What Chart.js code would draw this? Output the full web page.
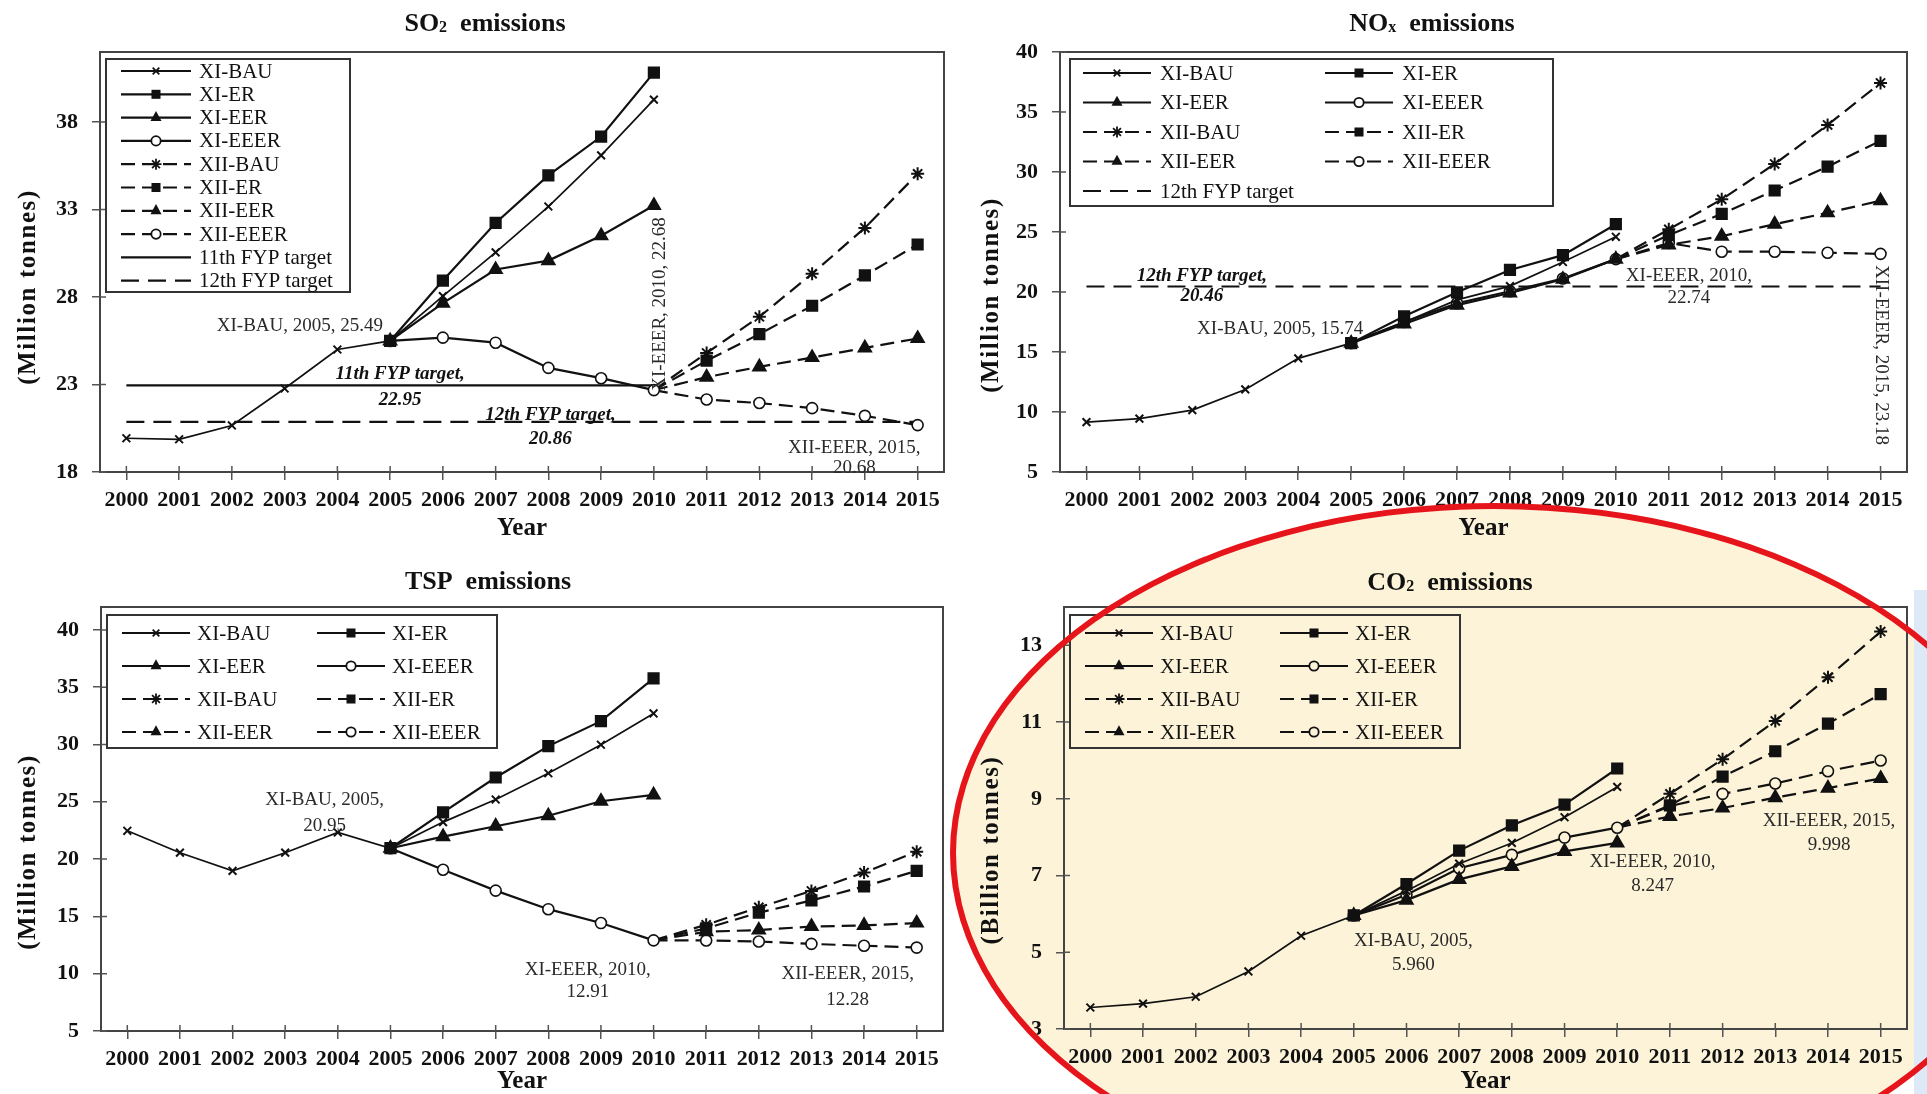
<!DOCTYPE html>
<html>
<head>
<meta charset="utf-8">
<script src="https://cdn.jsdelivr.net/npm/chart.js@4.4.1/dist/chart.umd.min.js"></script>
<style>
  html, body { margin: 0; padding: 0; background: #fff; }
  body { width: 1927px; height: 1094px; position: relative; overflow: hidden; }
  canvas { position: absolute; z-index: 1; }
  #ellFill { position: absolute; left: 950px; top: 503px; width: 1088px; height: 700px; border-radius: 50%; background: rgb(252,243,216); z-index: 0; }
  #ellLine { position: absolute; left: 950px; top: 503px; width: 1088px; height: 700px; border-radius: 50%; border: 6px solid #e6141b; box-sizing: border-box; z-index: 3; pointer-events: none; }
  #strip { position: absolute; left: 1914px; top: 590px; width: 13px; height: 504px; background: #dde9f6; z-index: 2; }
</style>
</head>
<body>
<div id="ellFill"></div>
<canvas id="so2" width="963" height="547" style="left:0;top:0"></canvas>
<canvas id="nox" width="964" height="547" style="left:963px;top:0"></canvas>
<canvas id="tsp" width="963" height="547" style="left:0;top:547px"></canvas>
<canvas id="co2" width="964" height="547" style="left:963px;top:547px"></canvas>
<div id="strip"></div>
<div id="ellLine"></div>
<script>
const _ = null;
const years = ['2000','2001','2002','2003','2004','2005','2006','2007','2008','2009','2010','2011','2012','2013','2014','2015'];

// ---------- SO2 (million tonnes) ----------
const so2XiBau   = [19.93, 19.87, 20.66, 22.77, 25.00, 25.49, 28.05, 30.55, 33.17, 36.09, 39.28, _, _, _, _, _];
const so2XiEr    = [_, _, _, _, _, 25.49, 28.94, 32.23, 34.95, 37.17, 40.82, _, _, _, _, _];
const so2XiEer   = [_, _, _, _, _, 25.49, 27.65, 29.57, 30.08, 31.50, 33.23, _, _, _, _, _];
const so2XiEeer  = [_, _, _, _, _, 25.49, 25.68, 25.39, 23.95, 23.36, 22.68, _, _, _, _, _];
const so2XiiBau  = [_, _, _, _, _, _, _, _, _, _, 22.68, 24.80, 26.87, 29.33, 31.95, 35.04];
const so2XiiEr   = [_, _, _, _, _, _, _, _, _, _, 22.68, 24.36, 25.88, 27.50, 29.23, 31.00];
const so2XiiEer  = [_, _, _, _, _, _, _, _, _, _, 22.68, 23.42, 24.01, 24.54, 25.09, 25.63];
const so2XiiEeer = [_, _, _, _, _, _, _, _, _, _, 22.68, 22.14, 21.94, 21.65, 21.21, 20.68];
const so2Target11 = [22.95, 22.95, 22.95, 22.95, 22.95, 22.95, 22.95, 22.95, 22.95, 22.95, 22.95, _, _, _, _, _];
const so2Target12 = [20.86, 20.86, 20.86, 20.86, 20.86, 20.86, 20.86, 20.86, 20.86, 20.86, 20.86, 20.86, 20.86, 20.86, 20.86, 20.86];
const so2Ticks = [18, 23, 28, 33, 38];

// ---------- NOx (million tonnes) ----------
const noxXiBau   = [9.16, 9.45, 10.16, 11.88, 14.47, 15.74, 17.48, 19.34, 20.49, 22.50, 24.60, _, _, _, _, _];
const noxXiEr    = [_, _, _, _, _, 15.74, 17.97, 19.97, 21.84, 23.07, 25.65, _, _, _, _, _];
const noxXiEer   = [_, _, _, _, _, 15.74, 17.34, 18.91, 19.92, 21.06, 22.74, _, _, _, _, _];
const noxXiEeer  = [_, _, _, _, _, 15.74, 17.50, 19.06, 20.06, 21.12, 22.74, _, _, _, _, _];
const noxXiiBau  = [_, _, _, _, _, _, _, _, _, _, 22.74, 25.22, 27.72, 30.67, 33.92, 37.42];
const noxXiiEr   = [_, _, _, _, _, _, _, _, _, _, 22.74, 24.74, 26.51, 28.46, 30.44, 32.60];
const noxXiiEer  = [_, _, _, _, _, _, _, _, _, _, 22.74, 23.93, 24.65, 25.65, 26.60, 27.60];
const noxXiiEeer = [_, _, _, _, _, _, _, _, _, _, 22.74, 24.08, 23.36, 23.36, 23.27, 23.18];
const noxTarget12 = [20.46, 20.46, 20.46, 20.46, 20.46, 20.46, 20.46, 20.46, 20.46, 20.46, 20.46, 20.46, 20.46, 20.46, 20.46, 20.46];
const noxTicks = [5, 10, 15, 20, 25, 30, 35, 40];

// ---------- TSP (million tonnes) ----------
const tspXiBau   = [22.47, 20.56, 18.98, 20.56, 22.32, 20.95, 23.23, 25.20, 27.49, 29.98, 32.71, _, _, _, _, _];
const tspXiEr    = [_, _, _, _, _, 20.95, 24.08, 27.12, 29.86, 32.04, 35.78, _, _, _, _, _];
const tspXiEer   = [_, _, _, _, _, 20.95, 21.96, 22.87, 23.78, 25.05, 25.60, _, _, _, _, _];
const tspXiEeer  = [_, _, _, _, _, 20.95, 19.07, 17.25, 15.63, 14.42, 12.91, _, _, _, _, _];
const tspXiiBau  = [_, _, _, _, _, _, _, _, _, _, 12.91, 14.27, 15.79, 17.22, 18.83, 20.65];
const tspXiiEr   = [_, _, _, _, _, _, _, _, _, _, 12.91, 13.96, 15.33, 16.39, 17.61, 18.98];
const tspXiiEer  = [_, _, _, _, _, _, _, _, _, _, 12.91, 13.66, 13.81, 14.12, 14.21, 14.42];
const tspXiiEeer = [_, _, _, _, _, _, _, _, _, _, 12.91, 12.90, 12.81, 12.60, 12.44, 12.28];
const tspTicks = [5, 10, 15, 20, 25, 30, 35, 40];

// ---------- CO2 (billion tonnes) ----------
const co2XiBau   = [3.56, 3.66, 3.84, 4.50, 5.43, 5.96, 6.60, 7.31, 7.85, 8.52, 9.31, _, _, _, _, _];
const co2XiEr    = [_, _, _, _, _, 5.96, 6.78, 7.65, 8.31, 8.85, 9.79, _, _, _, _, _];
const co2XiEer   = [_, _, _, _, _, 5.96, 6.36, 6.90, 7.24, 7.63, 7.85, _, _, _, _, _];
const co2XiEeer  = [_, _, _, _, _, 5.96, 6.50, 7.19, 7.54, 7.99, 8.247, _, _, _, _, _];
const co2XiiBau  = [_, _, _, _, _, _, _, _, _, _, 8.247, 9.13, 10.03, 11.03, 12.17, 13.36];
const co2XiiEr   = [_, _, _, _, _, _, _, _, _, _, 8.247, 8.83, 9.58, 10.24, 10.96, 11.73];
const co2XiiEer  = [_, _, _, _, _, _, _, _, _, _, 8.247, 8.54, 8.76, 9.03, 9.28, 9.53];
const co2XiiEeer = [_, _, _, _, _, _, _, _, _, _, 8.247, 8.81, 9.13, 9.40, 9.72, 9.998];
const co2Ticks = [3, 5, 7, 9, 11, 13];

// ---------- annotation texts (anchored in data space) ----------
const so2Notes = [
  { x: 3.29, y: 26.34, t: 'XI-BAU, 2005, 25.49' },
  { x: 5.19, y: 23.60, t: '11th FYP target,', bi: true },
  { x: 5.19, y: 22.11, t: '22.95', bi: true },
  { x: 8.04, y: 21.26, t: '12th FYP target,', bi: true },
  { x: 8.04, y: 19.89, t: '20.86', bi: true },
  { x: 10.12, y: 27.60, t: 'XI-EEER, 2010, 22.68', rot: -90 },
  { x: 13.8, y: 19.37, t: 'XII-EEER, 2015,' },
  { x: 13.8, y: 18.20, t: '20.68' }
];
const noxNotes = [
  { x: 2.18, y: 21.33, t: '12th FYP target,', bi: true },
  { x: 2.18, y: 19.67, t: '20.46', bi: true },
  { x: 3.66, y: 16.90, t: 'XI-BAU, 2005, 15.74' },
  { x: 11.38, y: 21.33, t: 'XI-EEER, 2010,' },
  { x: 11.38, y: 19.50, t: '22.74' },
  { x: 15.0, y: 14.75, t: 'XII-EEER, 2015, 23.18', rot: 90 }
];
const tspNotes = [
  { x: 3.75, y: 25.16, t: 'XI-BAU, 2005,' },
  { x: 3.75, y: 22.89, t: '20.95' },
  { x: 8.75, y: 10.32, t: 'XI-EEER, 2010,' },
  { x: 8.75, y: 8.40, t: '12.91' },
  { x: 13.69, y: 9.97, t: 'XII-EEER, 2015,' },
  { x: 13.69, y: 7.70, t: '12.28' }
];
const co2Notes = [
  { x: 6.13, y: 5.29, t: 'XI-BAU, 2005,' },
  { x: 6.13, y: 4.67, t: '5.960' },
  { x: 10.67, y: 7.35, t: 'XI-EEER, 2010,' },
  { x: 10.67, y: 6.72, t: '8.247' },
  { x: 14.02, y: 8.42, t: 'XII-EEER, 2015,' },
  { x: 14.02, y: 7.79, t: '9.998' }
];

// ---------- styling ----------
const SERIF = "'Liberation Serif', 'DejaVu Serif', 'Times New Roman', serif";
const INK = '#111';
const BEIGE = 'rgb(252,243,216)';

const MARKS = {
  BAU:  { ps: 'crossRot', r: 5.5 },
  ER:   { ps: 'rect', r: 7.5 },
  EER:  { ps: 'triangle', r: 7.5 },
  EEER: { ps: 'circle', r: 5.5 }
};

function series(label, data, kind, dashed, bg) {
  const m = MARKS[kind];
  const ps = (dashed && kind === 'BAU') ? 'star' : m.ps;
  const r = ps === 'star' ? 6.5 : m.r;
  return {
    label, data,
    borderColor: INK,
    borderWidth: kind === 'BAU' && !dashed ? 1.7 : 2.2,
    borderDash: dashed ? [14, 7] : [],
    pointStyle: ps,
    pointRadius: (ctx) => (dashed && ctx.dataIndex === 10) ? 0 : r,
    pointHoverRadius: r,
    pointBackgroundColor: kind === 'EEER' ? bg : INK,
    pointBorderColor: INK,
    pointBorderWidth: (ps === 'crossRot' || ps === 'star') ? 2 : 1.6,
    fill: false, tension: 0, spanGaps: false,
    _mark: { ps, r, bg: kind === 'EEER' ? bg : INK }
  };
}
function target(label, data, dashed) {
  return {
    label, data, borderColor: INK, borderWidth: 2.2,
    borderDash: dashed ? [18, 9] : [], pointRadius: 0, fill: false, tension: 0,
    _mark: null
  };
}

function drawMark(ctx, m, x, y, scale) {
  if (!m) return;
  const r = m.r * scale;
  ctx.save();
  ctx.setLineDash([]);
  ctx.strokeStyle = INK; ctx.fillStyle = INK; ctx.lineWidth = 1.8;
  ctx.beginPath();
  if (m.ps === 'crossRot' || m.ps === 'star') {
    const d = r * 0.707;
    ctx.moveTo(x - d, y - d); ctx.lineTo(x + d, y + d);
    ctx.moveTo(x - d, y + d); ctx.lineTo(x + d, y - d);
    if (m.ps === 'star') { ctx.moveTo(x - r, y); ctx.lineTo(x + r, y); ctx.moveTo(x, y - r); ctx.lineTo(x, y + r); }
    ctx.stroke();
  } else if (m.ps === 'rect') {
    const s = r * 0.707;
    ctx.fillRect(x - s, y - s, 2 * s, 2 * s);
  } else if (m.ps === 'triangle') {
    for (let k = 0; k < 3; k++) {
      const a = -Math.PI / 2 + k * 2 * Math.PI / 3;
      const px = x + Math.cos(a) * r, py = y + Math.sin(a) * r * 1.05;
      if (k === 0) ctx.moveTo(px, py); else ctx.lineTo(px, py);
    }
    ctx.closePath(); ctx.fill();
  } else if (m.ps === 'circle') {
    ctx.arc(x, y, r, 0, Math.PI * 2);
    ctx.fillStyle = m.bg; ctx.fill(); ctx.stroke();
  }
  ctx.restore();
}

// frame around plot area + inner tick marks
const framePlugin = {
  id: 'frame',
  beforeDatasetsDraw(chart) {
    const { ctx, chartArea: a, scales } = chart;
    ctx.save();
    ctx.strokeStyle = '#444'; ctx.lineWidth = 2;
    ctx.strokeRect(a.left, a.top, a.right - a.left, a.bottom - a.top);
    ctx.lineWidth = 1.5; ctx.strokeStyle = '#555';
    ctx.beginPath();
    scales.x.ticks.forEach((t, i) => {
      const x = scales.x.getPixelForTick(i);
      ctx.moveTo(x, a.bottom); ctx.lineTo(x, a.bottom - 6);
    });
    scales.y.ticks.forEach((t) => {
      const y = scales.y.getPixelForValue(t.value);
      ctx.moveTo(a.left, y); ctx.lineTo(a.left + 6, y);
    });
    ctx.stroke();
    ctx.restore();
  }
};

// title with subscripts + y-axis title
const textPlugin = {
  id: 'texts',
  afterDraw(chart, args, o) {
    const { ctx, chartArea: a } = chart;
    ctx.save();
    ctx.fillStyle = INK;
    ctx.textBaseline = 'alphabetic';
    const main = `bold 26px ${SERIF}`, sub = `bold 16px ${SERIF}`;
    let total = 0;
    o.title.forEach(([s, isSub]) => { ctx.font = isSub ? sub : main; total += ctx.measureText(s).width; });
    let x = o.titleX - total / 2;
    o.title.forEach(([s, isSub]) => {
      ctx.font = isSub ? sub : main;
      ctx.textAlign = 'left';
      ctx.fillText(s, x, o.titleY + 9 + (isSub ? 1 : 0));
      x += ctx.measureText(s).width;
    });
    // y axis title
    ctx.translate(o.yTitleX, (a.top + a.bottom) / 2 + o.yTitleShift);
    ctx.rotate(-Math.PI / 2);
    ctx.font = `bold 25px ${SERIF}`;
    if ('letterSpacing' in ctx) ctx.letterSpacing = '1.6px';
    ctx.textAlign = 'center'; ctx.textBaseline = 'middle';
    ctx.fillText(o.yTitle, 0, 0);
    ctx.restore();
  }
};

// boxed legend drawn inside plot area
const legendPlugin = {
  id: 'boxLegend',
  afterDatasetsDraw(chart, args, o) {
    const { ctx, chartArea: a } = chart;
    const bx = a.left + o.x, by = a.top + o.y;
    ctx.save();
    ctx.strokeStyle = '#333'; ctx.lineWidth = 2;
    ctx.strokeRect(bx, by, o.w, o.h);
    ctx.font = `21px ${SERIF}`;
    ctx.fillStyle = INK; ctx.textAlign = 'left'; ctx.textBaseline = 'middle';
    chart.data.datasets.forEach((ds, i) => {
      const col = i % o.cols, row = Math.floor(i / o.cols);
      const ox = bx + col * o.colW, oy = by + o.first + row * o.rowH;
      ctx.save();
      ctx.strokeStyle = INK; ctx.lineWidth = 2.2;
      ctx.setLineDash(ds.borderDash && ds.borderDash.length ? ds.borderDash : []);
      ctx.beginPath(); ctx.moveTo(ox + o.s0, oy); ctx.lineTo(ox + o.s1, oy); ctx.stroke();
      ctx.restore();
      drawMark(ctx, ds._mark, ox + (o.s0 + o.s1) / 2, oy, 0.85);
      ctx.fillStyle = INK;
      ctx.fillText(ds.label, ox + o.tx, oy + 1);
    });
    ctx.restore();
  }
};

// value annotations placed through the scales
const notesPlugin = {
  id: 'notes',
  afterDatasetsDraw(chart, args, o) {
    const { ctx, scales } = chart;
    ctx.save();
    o.items.forEach(n => {
      const px = scales.x.getPixelForValue(n.x), py = scales.y.getPixelForValue(n.y);
      ctx.save();
      ctx.translate(px, py);
      if (n.rot) ctx.rotate(n.rot * Math.PI / 180);
      ctx.font = n.bi ? `italic bold 19px ${SERIF}` : `19px ${SERIF}`;
      ctx.fillStyle = n.bi ? INK : '#2a2a2a';
      ctx.textAlign = 'center'; ctx.textBaseline = 'middle';
      ctx.fillText(n.t, 0, 0);
      ctx.restore();
    });
    ctx.restore();
  }
};

function makeChart(id, cfg) {
  const canvas = document.getElementById(id);
  const W = canvas.width, H = canvas.height;
  const ar = cfg.area;
  const tickFont = { family: SERIF, size: 22, weight: 'bold' };
  new Chart(canvas, {
    type: 'line',
    data: { labels: years, datasets: cfg.datasets },
    options: {
      responsive: false, animation: false, events: [],
      layout: { padding: { top: ar.top, right: W - ar.right, left: 0, bottom: 0 } },
      plugins: {
        legend: { display: false }, title: { display: false }, tooltip: { enabled: false },
        texts: { title: cfg.title, titleX: cfg.titleX, titleY: cfg.titleY, yTitle: cfg.yTitle, yTitleX: 29, yTitleShift: cfg.yTitleShift },
        boxLegend: cfg.legend,
        notes: { items: cfg.notes }
      },
      scales: {
        x: {
          type: 'category', offset: true,
          grid: { display: true, drawOnChartArea: false, drawTicks: true, tickLength: 8, color: '#555', lineWidth: 1.5, offset: false },
          border: { display: true, color: '#555', width: 2 },
          ticks: { autoSkip: false, maxRotation: 0, minRotation: 0, padding: cfg.xPad, color: INK, font: tickFont },
          title: { display: true, text: 'Year', color: INK, font: { family: SERIF, size: 25, weight: 'bold', lineHeight: 1 }, padding: { top: 0, bottom: cfg.yearPad } },
          afterFit: (s) => { s.height = H - ar.bottom; }
        },
        y: {
          type: 'linear', min: cfg.min, max: cfg.max,
          afterBuildTicks: (s) => { s.ticks = cfg.ticks.map(v => ({ value: v })); },
          grid: { display: true, drawOnChartArea: false, drawTicks: true, tickLength: 8, color: '#555', lineWidth: 1.5 },
          border: { display: true, color: '#555', width: 2 },
          ticks: { padding: 14, color: INK, font: tickFont },
          afterFit: (s) => { s.width = ar.left; }
        }
      }
    },
    plugins: [framePlugin, legendPlugin, notesPlugin, textPlugin]
  });
}

// ---- SO2 ----
makeChart('so2', {
  area: { left: 100, right: 944, top: 52, bottom: 472 },
  min: 18, max: 42, ticks: so2Ticks,
  title: [['SO', 0], ['2', 1], ['  emissions', 0]], titleX: 485, titleY: 22,
  yTitle: '(Million tonnes)', yTitleShift: 25, xPad: 7, yearPad: 6,
  datasets: [
    series('XI-BAU', so2XiBau, 'BAU', false, '#fff'),
    series('XI-ER', so2XiEr, 'ER', false, '#fff'),
    series('XI-EER', so2XiEer, 'EER', false, '#fff'),
    series('XI-EEER', so2XiEeer, 'EEER', false, '#fff'),
    series('XII-BAU', so2XiiBau, 'BAU', true, '#fff'),
    series('XII-ER', so2XiiEr, 'ER', true, '#fff'),
    series('XII-EER', so2XiiEer, 'EER', true, '#fff'),
    series('XII-EEER', so2XiiEeer, 'EEER', true, '#fff'),
    target('11th FYP target', so2Target11, false),
    target('12th FYP target', so2Target12, true)
  ],
  legend: { x: 6, y: 7, w: 244, h: 233, cols: 1, colW: 0, rowH: 23.3, first: 12, s0: 15, s1: 85, tx: 93 },
  notes: so2Notes
});

// ---- NOx ----
makeChart('nox', {
  area: { left: 97, right: 944, top: 52, bottom: 472 },
  min: 5, max: 40, ticks: noxTicks,
  title: [['NO', 0], ['x', 1], ['  emissions', 0]], titleX: 469, titleY: 22,
  yTitle: '(Million tonnes)', yTitleShift: 33, xPad: 7, yearPad: 6,
  datasets: [
    series('XI-BAU', noxXiBau, 'BAU', false, '#fff'),
    series('XI-ER', noxXiEr, 'ER', false, '#fff'),
    series('XI-EER', noxXiEer, 'EER', false, '#fff'),
    series('XI-EEER', noxXiEeer, 'EEER', false, '#fff'),
    series('XII-BAU', noxXiiBau, 'BAU', true, '#fff'),
    series('XII-ER', noxXiiEr, 'ER', true, '#fff'),
    series('XII-EER', noxXiiEer, 'EER', true, '#fff'),
    series('XII-EEER', noxXiiEeer, 'EEER', true, '#fff'),
    target('12th FYP target', noxTarget12, true)
  ],
  legend: { x: 10, y: 7, w: 483, h: 147, cols: 2, colW: 242, rowH: 29.5, first: 14, s0: 13, s1: 81, tx: 90 },
  notes: noxNotes
});

// ---- TSP ----
makeChart('tsp', {
  area: { left: 101, right: 943, top: 60, bottom: 484 },
  min: 5, max: 42, ticks: tspTicks,
  title: [['TSP  emissions', 0]], titleX: 488, titleY: 33,
  yTitle: '(Million tonnes)', yTitleShift: 33, xPad: 7, yearPad: 0,
  datasets: [
    series('XI-BAU', tspXiBau, 'BAU', false, '#fff'),
    series('XI-ER', tspXiEr, 'ER', false, '#fff'),
    series('XI-EER', tspXiEer, 'EER', false, '#fff'),
    series('XI-EEER', tspXiEeer, 'EEER', false, '#fff'),
    series('XII-BAU', tspXiiBau, 'BAU', true, '#fff'),
    series('XII-ER', tspXiiEr, 'ER', true, '#fff'),
    series('XII-EER', tspXiiEer, 'EER', true, '#fff'),
    series('XII-EEER', tspXiiEeer, 'EEER', true, '#fff')
  ],
  legend: { x: 6, y: 8, w: 390, h: 133, cols: 2, colW: 195, rowH: 33, first: 18, s0: 15, s1: 83, tx: 90 },
  notes: tspNotes
});

// ---- CO2 ----
makeChart('co2', {
  area: { left: 101, right: 944, top: 60, bottom: 482 },
  min: 3, max: 14, ticks: co2Ticks,
  title: [['CO', 0], ['2', 1], ['  emissions', 0]], titleX: 487, titleY: 34,
  yTitle: '(Billion tonnes)', yTitleShift: 32, xPad: 7, yearPad: 0,
  datasets: [
    series('XI-BAU', co2XiBau, 'BAU', false, BEIGE),
    series('XI-ER', co2XiEr, 'ER', false, BEIGE),
    series('XI-EER', co2XiEer, 'EER', false, BEIGE),
    series('XI-EEER', co2XiEeer, 'EEER', false, BEIGE),
    series('XII-BAU', co2XiiBau, 'BAU', true, BEIGE),
    series('XII-ER', co2XiiEr, 'ER', true, BEIGE),
    series('XII-EER', co2XiiEer, 'EER', true, BEIGE),
    series('XII-EEER', co2XiiEeer, 'EEER', true, BEIGE)
  ],
  legend: { x: 6, y: 8, w: 390, h: 133, cols: 2, colW: 195, rowH: 33, first: 18, s0: 15, s1: 83, tx: 90 },
  notes: co2Notes
});
</script>
</body>
</html>
